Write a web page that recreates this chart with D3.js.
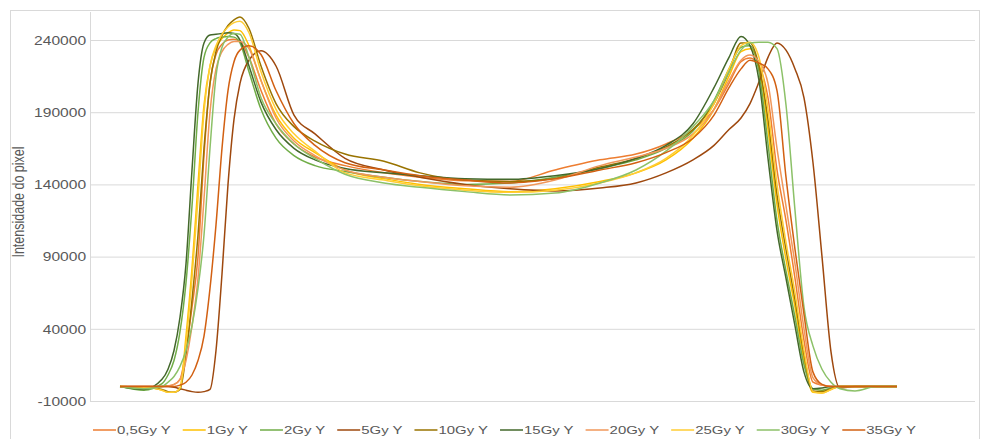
<!DOCTYPE html>
<html><head><meta charset="utf-8">
<script src="https://cdn.jsdelivr.net/npm/d3@7"></script>
<style>body{margin:0;background:#fff}svg{display:block}</style>
</head><body><svg id="c" width="986" height="439"></svg>
<script>
// ---- data ----
const positions = [0, 8, 14, 16, 18, 20, 22, 24, 26, 28, 30, 32, 34, 36, 38, 40, 43, 47, 52, 58, 65, 75, 88, 100, 115, 130, 145, 160, 172, 182, 191, 198, 203, 207, 210, 213, 216, 219, 222, 225, 228, 231, 234, 237, 240, 245, 252, 259];
const yTicks = [-10000, 40000, 90000, 140000, 190000, 240000];
const seriesNames = ["0,5Gy Y", "1Gy Y", "2Gy Y", "5Gy Y", "10Gy Y", "15Gy Y", "20Gy Y", "25Gy Y", "30Gy Y", "35Gy Y"];
const seriesColors = ["#ED7D31", "#FFC000", "#70AD47", "#9E480E", "#997300", "#43682B", "#F1975A", "#FFCD33", "#8CC168", "#D26012"];

const s05 = [0, 0, 0, 500, 1500, 5000, 25000, 55000, 90000, 160000, 210000, 230000, 237000, 240000, 240500, 239000, 228000, 205000, 182000, 168000, 159000, 153000, 148000, 145000, 142500, 142000, 150000, 157000, 161000, 168000, 178000, 192000, 210000, 225000, 227500, 222000, 200000, 150000, 115000, 75000, 32000, 3000, 1000, 0, 0, 0, 0, 0];
const s1 = [0, -500, -2500, -4000, -4000, -1000, 35000, 82000, 140000, 195000, 222000, 235000, 241000, 245000, 247000, 246500, 236000, 212000, 188000, 172000, 162000, 150000, 144000, 140000, 137000, 135000, 137000, 142000, 148000, 157000, 172000, 192000, 215000, 232000, 234000, 222000, 178000, 126000, 88000, 55000, 18000, -4000, -4500, -2000, 0, 0, 0, 0];
const s2 = [0, -2500, 2000, 8000, 18000, 38000, 72000, 125000, 190000, 228000, 238000, 241000, 242000, 242500, 242000, 238000, 218000, 192000, 172000, 160000, 153000, 149000, 145000, 142000, 140000, 141000, 145000, 151000, 157000, 165000, 177000, 198000, 220000, 235000, 236000, 218000, 168000, 115000, 80000, 48000, 15000, -1500, -2500, -1000, 0, 0, 0, 0];
const s5 = [0, 0, 0, 0, -500, -1500, -2500, -3500, -4000, -3500, -2000, 25000, 78000, 140000, 185000, 210000, 226000, 232500, 222000, 188000, 175000, 158000, 150000, 145000, 140000, 137000, 135500, 137500, 141000, 148000, 157000, 167000, 178000, 186000, 196000, 211000, 228000, 238000, 233000, 220000, 200000, 155000, 90000, 24000, -1000, 0, 0, 0];
const s10 = [0, -500, -2000, -3500, -4000, -2000, 22000, 60000, 105000, 165000, 210000, 232000, 243000, 250000, 254000, 256000, 248000, 222000, 196000, 180000, 170000, 161000, 156000, 148000, 143000, 142000, 144000, 152000, 158000, 166000, 178000, 196000, 218000, 238000, 238000, 222000, 185000, 133000, 95000, 60000, 22000, -3000, -3500, -1500, 0, 0, 0, 0];
const s15 = [0, -2000, 5000, 12000, 25000, 48000, 85000, 150000, 210000, 238000, 243500, 244000, 244500, 245000, 244500, 240000, 222000, 197000, 178000, 165000, 157000, 151000, 148000, 146000, 144000, 143500, 146000, 151000, 158000, 167000, 182000, 207000, 228000, 242500, 236000, 212000, 158000, 108000, 75000, 42000, 10000, -1500, -1000, 0, 0, 0, 0, 0];
const s20 = [0, 0, 0, 500, 1500, 5000, 18000, 42000, 75000, 130000, 190000, 220000, 232000, 237000, 239000, 239000, 234000, 212000, 186000, 170000, 160000, 150000, 145000, 142000, 139000, 138000, 143000, 153000, 159000, 165000, 175000, 192000, 212000, 226000, 229600, 225000, 210000, 165000, 125000, 85000, 40000, 6000, 1000, 0, 0, 0, 0, 0];
const s25 = [0, -500, -2500, -4000, -4000, -1000, 30000, 75000, 130000, 190000, 222000, 236000, 244000, 249000, 252000, 253000, 245000, 218000, 192000, 175000, 163000, 148000, 143000, 139000, 136000, 134500, 136000, 141000, 148000, 158000, 174000, 196000, 220000, 236000, 238500, 228000, 192000, 140000, 100000, 65000, 25000, -3500, -4500, -2000, 0, 0, 0, 0];
const s30 = [0, -1500, 0, 3000, 7000, 14000, 25000, 42000, 68000, 105000, 165000, 215000, 235000, 242000, 244500, 244000, 228000, 200000, 182000, 168000, 158000, 147000, 141000, 138000, 135000, 132700, 134000, 141000, 150000, 163000, 180000, 198000, 218000, 233000, 238000, 238500, 238500, 234000, 195000, 122000, 55000, 28000, 12000, 3000, -1500, -3000, 0, 0];
const s35 = [0, 0, 0, 0, 0, 1000, 3000, 8000, 18000, 35000, 68000, 112000, 165000, 205000, 225000, 233000, 236000, 230000, 205000, 182000, 167000, 155000, 150000, 146000, 143000, 141000, 144000, 150000, 155000, 162000, 172000, 188000, 207000, 220000, 226000, 224000, 220000, 205000, 145000, 95000, 50000, 10000, 1500, 0, 0, 0, 0, 0];
const seriesValues = [s05, s1, s2, s5, s10, s15, s20, s25, s30, s35];

// ---- drawing ----
const svg = d3.select("#c");
const textColor = "#595959", gridColor = "#d9d9d9";
const SX = 1.3; // horizontal stretch of the reference rendering

svg.append("rect").attr("x", 10.5).attr("y", 10.5).attr("width", 969).attr("height", 440)
  .attr("fill", "none").attr("stroke", gridColor);

const x = d3.scaleLinear().domain([-10, 285]).range([90, 975]);
const y = d3.scaleLinear().domain([-10000, 259400]).range([401, 12]);

const yAxis = d3.axisLeft(y).tickValues(yTicks).tickSize(-(975 - 90)).tickFormat(d => String(d));
const gy = svg.append("g").attr("transform", "translate(90,0)").call(yAxis);
gy.select(".domain").remove();
gy.selectAll(".tick line").attr("stroke", gridColor).attr("stroke-width", 1);
gy.selectAll(".tick text").attr("fill", textColor).attr("font-family", "Liberation Sans, Arial, sans-serif")
  .attr("font-size", 12).attr("x", -3).attr("dy", "0.36em").attr("transform", `scale(${SX},1)`);
svg.append("line").attr("x1", 90.5).attr("x2", 90.5).attr("y1", 12).attr("y2", 401)
  .attr("stroke", gridColor);

svg.append("text").attr("transform", `translate(18,202) scale(${SX},1) rotate(-90)`)
  .attr("text-anchor", "middle").attr("dy", "0.35em")
  .attr("font-family", "Liberation Sans, Arial, sans-serif").attr("font-size", 12.5)
  .attr("fill", textColor).text("Intensidade do pixel");

const line = d3.line().x(d => x(d[0])).y(d => y(d[1])).curve(d3.curveMonotoneX);
seriesValues.forEach((vals, i) => {
  svg.append("path").datum(positions.map((p, j) => [p, vals[j]]))
    .attr("fill", "none").attr("stroke", seriesColors[i]).attr("stroke-width", 1.5)
    .attr("stroke-linejoin", "round").attr("d", line);
});

// legend
const lg = svg.append("g");
let cx = 93;
const ly = 430;
seriesNames.forEach((name, i) => {
  lg.append("line").attr("x1", cx).attr("x2", cx + 23).attr("y1", ly).attr("y2", ly)
    .attr("stroke", seriesColors[i]).attr("stroke-width", 1.5);
  const t = lg.append("text").attr("transform", `translate(${cx + 24},${ly}) scale(${SX},1)`)
    .attr("dy", "0.36em").attr("font-family", "Liberation Sans, Arial, sans-serif")
    .attr("font-size", 11.5).attr("fill", textColor).text(name);
  const w = t.node().getComputedTextLength() * SX;
  cx += 24 + w + 12;
});
</script></body></html>
